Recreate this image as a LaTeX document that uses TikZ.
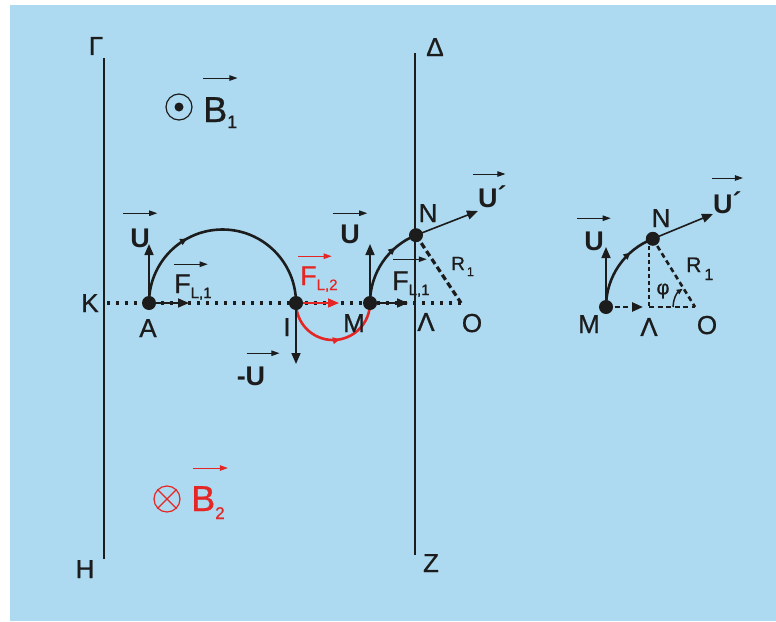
\documentclass[tikz,border=0pt]{standalone}
\usepackage{fontspec}
\setmainfont{Liberation Sans}
\newfontfamily\labelfont{Liberation Sans}[FakeBold=0.8]
\usepackage{xcolor}
\usetikzlibrary{arrows.meta, positioning, decorations.markings}

\definecolor{skyback}{RGB}{174,218,241}
\definecolor{fieldred}{RGB}{228,38,36}
\definecolor{ink}{RGB}{28,28,28}

\newcommand{\lowsub}[3]{\raisebox{-#1}{\fontsize{#2}{#2}\selectfont #3}}

\begin{document}
\begin{tikzpicture}[
  x=1pt, y=-1pt,
  plate/.style    = {line width=2.6pt, ink},
  traj/.style     = {line width=2.6pt, #1},
  traj/.default   = ink,
  midtip/.style   = {postaction={decorate}, decoration={markings,
                     mark=at position #1 with {\arrow{Triangle[length=7pt,width=6.5pt]}}}},
  dot/.style      = {circle, fill=ink, inner sep=0pt, minimum size=14pt},
  vec/.style      = {-{Triangle[length=11pt,width=9pt]}, line width=1.6pt, #1},
  vec/.default    = ink,
  over/.style     = {-{Triangle[length=8pt,width=5.5pt]}, line width=0.9pt, #1},
  over/.default   = ink,
  axisdots/.style = {line width=3.4pt, dash pattern=on 3.4pt off 5.6pt, ink},
  guide/.style    = {line width=2.6pt, dash pattern=on 5pt off 3.5pt, ink},
  pnt/.style      = {inner sep=0pt, anchor=base, text=ink, font=\labelfont\fontsize{26}{26}\selectfont},
  vlab/.style     = {inner sep=0pt, anchor=base, text=#1, font=\labelfont\fontsize{27}{27}\selectfont},
  vlab/.default   = ink,
  ulab/.style     = {vlab, font=\bfseries\fontsize{27}{27}\selectfont},
  blab/.style     = {inner sep=0pt, anchor=base west, text=#1, font=\labelfont\fontsize{36}{36}\selectfont},
  rlab/.style     = {inner sep=0pt, anchor=base west, text=ink, font=\labelfont\fontsize{19}{19}\selectfont}
]

\fill[white] (0,0) rectangle (776,621);
\fill[skyback] (10,5) rectangle (776,621);

\coordinate (Gt) at (104,58);
\coordinate (Hb) at (104,559);
\coordinate (Dt) at (415,53);
\coordinate (Zb) at (415,555);
\draw[plate] (Gt) -- (Hb);
\draw[plate] (Dt) -- (Zb);

\coordinate (K) at (107,303);
\coordinate (A) at (149,303);
\coordinate (I) at (296,303);
\coordinate (M) at (370,303);
\coordinate (N) at (416,235.2);
\coordinate (O) at (461,303);

\draw[axisdots] (K) -- (O);
\draw[guide, line width=3.2pt, dash pattern=on 6pt off 3.5pt] (N) -- (O);

\draw[traj, midtip=0.34] (A) arc[start angle=180, end angle=360, radius=73.5];
\draw[traj=fieldred, midtip=0.56] (I) arc[start angle=180, end angle=0, radius=37];
\draw[traj, midtip=0.72] (M) arc[start angle=180, end angle=248.3, radius=73];

\coordinate (uAt) at (149,244);
\coordinate (fAt) at (189,303);
\coordinate (dIt) at (296,364);
\coordinate (fIt) at (339,303);
\coordinate (uMt) at (370,244);
\coordinate (fMt) at (408,303);
\coordinate (uNt) at (478,211);

\draw[vec] (A) -- (uAt);
\draw[vec] (A) -- (fAt);
\draw[vec] (I) -- (dIt);
\draw[vec=fieldred] (I) -- (fIt);
\draw[vec] (M) -- (uMt);
\draw[vec] (M) -- (fMt);
\draw[vec] (N) -- (uNt);

\foreach \p in {A,I,M,N}
  \node[dot] (d\p) at (\p) {};

\node[pnt] (lG) at (96,55)   {Γ};
\node[pnt] (lH) at (85,578)  {H};
\node[pnt] (lD) at (435,56)  {Δ};
\node[pnt] (lZ) at (431,572) {Z};
\node[pnt] (lK) at (90,312)  {K};
\node[pnt] (lA) at (148,337) {A};
\node[pnt] (lI) at (287,336) {I};
\node[pnt] (lM) at (354,332) {M};
\node[pnt] (lL) at (426,331) {Λ};
\node[pnt] (lO) at (472,332) {O};
\node[pnt] (lN) at (428,222) {N};

\node[circle, draw=ink, line width=1.2pt, minimum size=26pt, inner sep=0pt] (s1) at (179,107) {};
\fill[ink] (s1.center) circle[radius=4.5pt];
\node[blab=ink] (b1) at (203,122) {B\lowsub{6pt}{18}{1}};
\draw[over] ([yshift=19pt]b1.north west) -- ([yshift=19pt]b1.north east);

\node[circle, draw=fieldred, line width=1.2pt, minimum size=26pt, inner sep=0pt] (s2) at (167,499) {};
\draw[fieldred, line width=1.2pt] (s2.north west) -- (s2.south east)
                                  (s2.north east) -- (s2.south west);
\node[blab=fieldred] (b2) at (191,511) {B\lowsub{8pt}{17}{2}};
\draw[over=fieldred] ([xshift=2pt,yshift=18pt]b2.north west) -- ([xshift=3pt,yshift=18pt]b2.north east);

\node[ulab, minimum width=34pt] (uA) at (140,247) {U};
\draw[over] ([yshift=15pt]uA.north west) -- ([yshift=15pt]uA.north east);
\node[vlab, anchor=base west] (fA) at (174,293) {F\lowsub{5pt}{15}{L,1}};
\draw[over] ([yshift=10pt]fA.north west) -- ([xshift=-4pt,yshift=10pt]fA.north east);
\node[ulab] (mU) at (251,385) {-U};
\draw[over] ([xshift=10pt,yshift=13pt]mU.north west) -- ([xshift=14pt,yshift=13pt]mU.north east);
\node[vlab=fieldred, anchor=base west] (fI) at (300,285) {F\lowsub{5pt}{15}{L,2}};
\draw[over=fieldred] ([xshift=-2pt,yshift=10pt]fI.north west) -- ([xshift=-6pt,yshift=10pt]fI.north east);
\node[ulab, minimum width=34pt] (uM) at (350,243) {U};
\draw[over] ([yshift=11pt]uM.north west) -- ([yshift=11pt]uM.north east);
\node[vlab, anchor=base west] (fM) at (392,290) {F\lowsub{5pt}{15}{L,1}};
\draw[over] ([xshift=1pt,yshift=12pt]fM.north west) -- ([xshift=-3pt,yshift=12pt]fM.north east);
\node[ulab, anchor=base west] (uN) at (478,207) {U\raisebox{2pt}{´}};
\draw[over] ([xshift=-5pt,yshift=11pt]uN.north west) -- ([xshift=-1.5pt,yshift=11pt]uN.north east);
\node[rlab] (r1) at (451,270) {R\kern2pt\lowsub{6pt}{12.5}{1}};

\coordinate (M2) at (606,307);
\coordinate (N2) at (652.8,238.8);
\coordinate (L2) at (649,307);
\coordinate (O2) at (695,307);
\coordinate (F2) at (643,307);
\coordinate (uM2t) at (606,247);
\coordinate (uN2t) at (713,214);

\draw[guide] (L2) -- (O2);
\draw[guide, -{Triangle[length=11pt,width=9pt]}] (M2) -- (F2);
\draw[guide, line width=2pt, dash pattern=on 4pt off 3pt] (L2 |- N2) -- (L2);
\draw[guide] (N2) -- (O2);
\draw[traj, midtip=0.7] (M2) arc[start angle=180, end angle=249, radius=73];
\draw[vec] (M2) -- (uM2t);
\draw[vec] (N2) -- (uN2t);
\draw[line width=1.5pt, ink, -{Triangle[length=6pt,width=5pt]}] ([xshift=-22pt]O2)
  arc[start angle=180, end angle=236, radius=22];

\foreach \p in {M2,N2}
  \node[dot] (d\p) at (\p) {};

\node[pnt] (lM2) at (589,333) {M};
\node[pnt] (lL2) at (649,336) {Λ};
\node[pnt] (lO2) at (707,334) {O};
\node[pnt] (lN2) at (661,227) {N};
\node[ulab, minimum width=33pt] (uM2) at (594,250) {U};
\draw[over] ([yshift=13pt]uM2.north west) -- ([yshift=13pt]uM2.north east);
\node[ulab, anchor=base west] (uN2) at (713,213) {U\raisebox{2pt}{´}};
\draw[over] ([xshift=-1pt,yshift=13pt]uN2.north west) -- ([xshift=1pt,yshift=13pt]uN2.north east);
\node[rlab, font=\labelfont\fontsize{21}{21}\selectfont] (r2) at (686,272) {R\kern3pt\lowsub{8pt}{16}{1}};
\node[inner sep=0pt, text=ink, font=\labelfont\fontsize{20}{20}\selectfont] (phi) at (663,291) {φ};

\end{tikzpicture}
\end{document}
